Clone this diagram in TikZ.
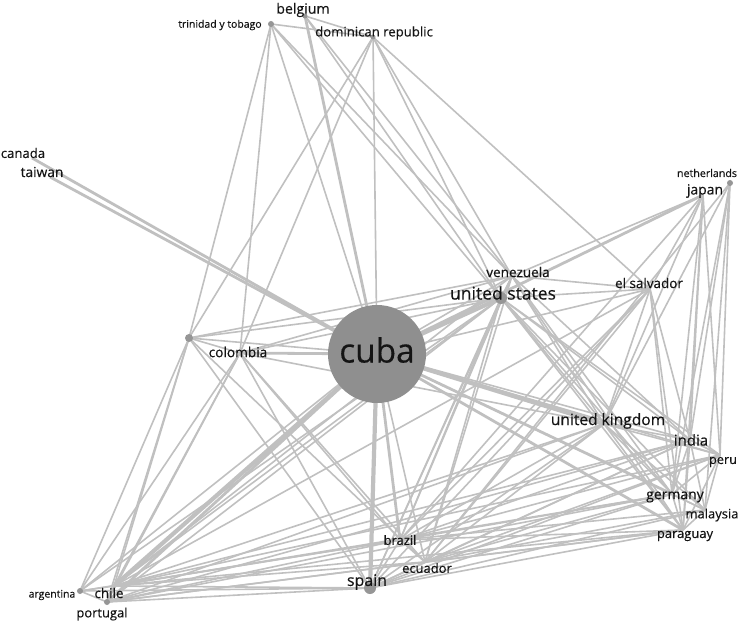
\documentclass[tikz,border=0pt]{standalone}
\usepackage{fontspec}
\setmainfont{Open Sans}[FakeBold=0.35]
\definecolor{edgegray}{RGB}{192,192,192}
\definecolor{dotgray}{RGB}{150,150,150}
\definecolor{cubagray}{RGB}{143,143,143}
\definecolor{txt}{RGB}{20,20,20}
\newcommand\fsz[1]{\fontsize{#1}{#1}\selectfont}
\tikzset{
  edge/.style={draw=edgegray, line width=1.6bp},
  edgeB/.style={draw=edgegray, line width=2.8bp},
  edgeC/.style={draw=edgegray, line width=4.2bp},
  dotnode/.style={circle, fill=dotgray, inner sep=0pt, minimum size=#1},
  lab/.style={text=txt, inner sep=0pt},
}
\begin{document}
\begin{tikzpicture}[x=1bp, y=-1bp]
\useasboundingbox (0,0) rectangle (744,624);
% vertex positions
\coordinate (vC) at (377,354);
\coordinate (vtt) at (271,24);
\coordinate (vbe) at (305,16);
\coordinate (vdr) at (373,37);
\coordinate (vca) at (32,158);
\coordinate (vtw) at (50,177);
\coordinate (vnl) at (730,183);
\coordinate (vjp) at (703,195);
\coordinate (vve) at (512,276);
\coordinate (vus) at (501,298);
\coordinate (ves) at (650,289);
\coordinate (vdot) at (189,338);
\coordinate (vco) at (240,353);
\coordinate (vuk) at (604,424);
\coordinate (vin) at (690,440);
\coordinate (vpe) at (720,455);
\coordinate (vde) at (672,494);
\coordinate (vmy) at (705,510);
\coordinate (vpy) at (683,530);
\coordinate (vbr) at (400,540);
\coordinate (vec) at (425,562);
\coordinate (vsp) at (370,588);
\coordinate (vcl) at (114,586);
\coordinate (var) at (80,591);
\coordinate (vpt) at (107,602);
% thin edges
\foreach \a/\b in {vtt/vdr, vtt/vdot, vtt/vco, vtt/vve, vtt/vus,
  vbe/vdr, vbe/vus, vbe/vve,
  vdr/vco, vdr/vdot, vdr/vve, vdr/vus, vdr/ves,
  vjp/vve, vjp/vuk, vjp/vin, vjp/vde, vjp/vpy, vjp/vpe, vjp/ves, vjp/vbr,
  vnl/vuk, vnl/vin, vnl/vpe, vnl/vmy, vnl/vde, vnl/vec,
  ves/vve, ves/vus, ves/vuk, ves/vde, ves/vpy, ves/vin, ves/vbr, ves/vec, ves/vsp, ves/vcl,
  vus/vve, vus/vco, vus/vdot, vus/vuk, vus/vin, vus/vpe, vus/vde, vus/vmy, vus/vpy,
  vus/vbr, vus/vec, vus/vsp, vus/vcl, vus/vpt, vus/var,
  vve/vco, vve/vdot, vve/vuk, vve/vde, vve/vpy, vve/vin, vve/vbr, vve/vec, vve/vsp, vve/vcl,
  vco/vdot, vco/vcl, vco/var, vco/vpt, vco/vsp, vco/vbr, vco/vec, vco/vuk,
  vdot/var, vdot/vcl, vdot/vpt, vdot/vsp, vdot/vec,
  vuk/vin, vuk/vpe, vuk/vde, vuk/vmy, vuk/vpy, vuk/vbr, vuk/vec, vuk/vsp, vuk/vcl, vuk/vpt,
  vin/vpe, vin/vde, vin/vpy, vin/vmy, vin/vbr, vin/vec, vin/vsp, vin/vcl, vin/vpt,
  vpe/vde, vpe/vpy, vpe/vmy, vpe/vbr, vpe/vec, vpe/vsp, vpe/vcl,
  vde/vpy, vde/vmy, vde/vbr, vde/vec, vde/vsp, vde/vcl, vde/vpt,
  vmy/vpy, vmy/vbr, vmy/vec, vmy/vsp,
  vpy/vbr, vpy/vec, vpy/vsp, vpy/vcl, vpy/vpt,
  vbr/vsp, vbr/vec, vbr/vcl, vbr/vpt, vbr/var,
  vec/vsp, vec/vcl, vec/vpt,
  vsp/vcl, vsp/vpt, vsp/var,
  vcl/var, vcl/vpt, var/vpt,
  vC/vtt, vC/vdr, vC/ves, vC/vdot, vC/vin, vC/vpe, vC/vmy, vC/vec, vC/var, vC/vve}
  \draw[edge] (\a) -- (\b);
% medium edges
\foreach \a/\b in {vC/vca, vC/vbe, vC/vco, vC/vde, vC/vpy, vC/vbr, vC/vpt, vC/vjp, vC/vtw}
  \draw[edgeB] (\a) -- (\b);
% heavy edges
\foreach \a/\b in {vC/vus, vC/vuk, vC/vsp, vC/vcl}
  \draw[edgeC] (\a) -- (\b);
% node circles
\node[circle, fill=cubagray, inner sep=0pt, minimum size=98bp] (ncuba) at (vC) {};
\node[dotnode=6bp] (ntt) at (vtt) {};
\node[dotnode=6bp] (nnl) at (vnl) {};
\node[dotnode=12bp] (nus) at (vus) {};
\node[dotnode=12bp] (nsp) at (vsp) {};
\node[dotnode=8bp] (ndot) at (vdot) {};
\node[dotnode=6bp] (nar) at (var) {};
\node[dotnode=6bp] (npt) at (vpt) {};
\node[dotnode=5bp] (nbe) at (vbe) {};
\node[dotnode=5bp] (ndr) at (vdr) {};
% labels
\node[lab, font=\fsz{33.5}] (lcuba) at (377,350) {cuba};
\node[lab, font=\fsz{10.5}] (ltt) at (220,25) {trinidad y tobago};
\node[lab, font=\fsz{14.2}] (lbe) at (303,10) {belgium};
\node[lab, font=\fsz{13.2}] (ldr) at (374,33) {dominican republic};
\node[lab, font=\fsz{13.2}] (lca) at (23,153) {canada};
\node[lab, font=\fsz{13.8}] (ltw) at (42,172) {taiwan};
\node[lab, font=\fsz{10.7}] (lnl) at (707,173) {netherlands};
\node[lab, font=\fsz{14}] (ljp) at (705,191) {japan};
\node[lab, font=\fsz{13.6}] (lve) at (518,272) {venezuela};
\node[lab, font=\fsz{17.6}] (lus) at (503,293) {united states};
\node[lab, font=\fsz{13.5}] (les) at (649,283) {el salvador};
\node[lab, font=\fsz{13.7}] (lco) at (238,352) {colombia};
\node[lab, font=\fsz{15.6}] (luk) at (608,421) {united kingdom};
\node[lab, font=\fsz{15}] (lin) at (691,440) {india};
\node[lab, font=\fsz{12.8}] (lpe) at (723,462) {peru};
\node[lab, font=\fsz{14}] (lde) at (675,497) {germany};
\node[lab, font=\fsz{13}] (lmy) at (712,515) {malaysia};
\node[lab, font=\fsz{13}] (lpy) at (685,536) {paraguay};
\node[lab, font=\fsz{13}] (lbr) at (400,540) {brazil};
\node[lab, font=\fsz{13}] (lec) at (427,568) {ecuador};
\node[lab, font=\fsz{16}] (lsp) at (367,582) {spain};
\node[lab, font=\fsz{13.5}] (lcl) at (109,593) {chile};
\node[lab, font=\fsz{10.5}] (lar) at (52,595) {argentina};
\node[lab, font=\fsz{13}] (lpt) at (102,614) {portugal};
\end{tikzpicture}
\end{document}
